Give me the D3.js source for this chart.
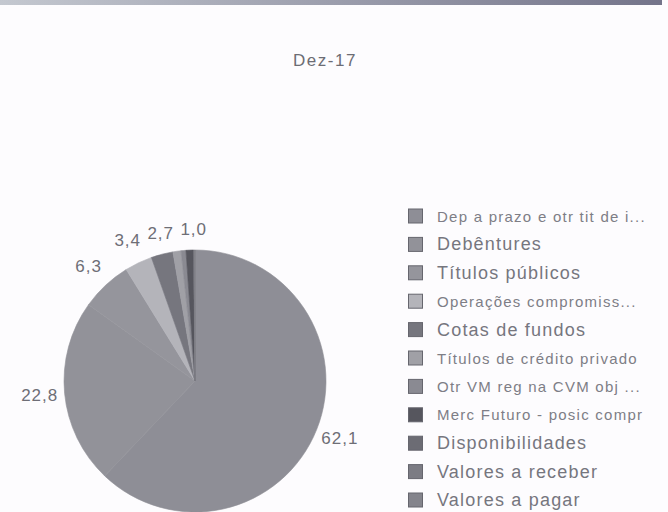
<!DOCTYPE html>
<html>
<head>
<meta charset="utf-8">
<script src="https://cdn.jsdelivr.net/npm/d3@7"></script>
<style>
  body { margin: 0; background: #fdfcfe; }
  svg { display: block; font-family: "Liberation Sans", Arial, sans-serif; }
</style>
</head>
<body>
<div id="chart"></div>
<script>
var svgWidth = 668;
var svgHeight = 512;

// chart data (percent of portfolio, Dez-17)
var title = "Dez-17";
var categories = [
  "Dep a prazo e otr tit de i...",
  "Debêntures",
  "Títulos públicos",
  "Operações compromiss...",
  "Cotas de fundos",
  "Títulos de crédito privado",
  "Otr VM reg na CVM obj ...",
  "Merc Futuro - posic compr",
  "Disponibilidades",
  "Valores a receber",
  "Valores a pagar"
];
var values = [62.1, 22.8, 6.3, 3.4, 2.7, 1.0, 0.6, 0.9, 0.1, 0.1, 0.0];

// grey tones of the scanned chart
var greys = ["#8e8e96", "#929299", "#95959c", "#b4b4ba", "#76767e", "#a0a0a6",
             "#8a8a92", "#56565e", "#6c6c74", "#7c7c84", "#84848c"];

var svg = d3.select("#chart")
  .append("svg")
  .attr("width", svgWidth)
  .attr("height", svgHeight);

// scan border at the top
var grad = svg.append("defs").append("linearGradient").attr("id", "topband");
grad.append("stop").attr("offset", "0%").attr("stop-color", "#c4c8d0");
grad.append("stop").attr("offset", "100%").attr("stop-color", "#74748a");
svg.append("rect")
  .attr("x", 0).attr("y", 0)
  .attr("width", 662).attr("height", 5)
  .attr("fill", "url(#topband)");

svg.append("text")
  .attr("x", 325)
  .attr("y", 66)
  .attr("text-anchor", "middle")
  .attr("font-size", 17)
  .attr("letter-spacing", 1.5)
  .attr("fill", "#6c6c74")
  .text(title);

var cx = 195, cy = 381, radius = 131;

var color = d3.scaleOrdinal().domain(categories).range(greys);

var pie = d3.pie()
  .sort(null)
  .value(d => d.value);

var data = categories.map((c, i) => ({ name: c, value: values[i] }));
var arcs = pie(data);

var arc = d3.arc().innerRadius(0).outerRadius(radius);
var labelArc = d3.arc().innerRadius(156).outerRadius(156);

var g = svg.append("g").attr("transform", "translate(" + cx + "," + cy + ")");

g.selectAll("path")
  .data(arcs)
  .enter()
  .append("path")
  .attr("d", arc)
  .attr("fill", d => color(d.data.name))
  .attr("stroke", d => color(d.data.name))
  .attr("stroke-width", 0.6);

// labels only for the slices Excel labelled, nudged apart when they collide
var labelled = arcs.filter(d => d.data.value >= 1);
var prevX = null;
labelled.forEach(function(d) {
  var p = labelArc.centroid(d);
  if (prevX !== null && Math.abs(p[1]) > 120 && p[0] - prevX < 30 && p[0] > prevX - 5) {
    p[0] = prevX + 33;
    p[1] += 3;
  }
  prevX = p[0];
  d.lx = p[0];
  d.ly = p[1];
});

g.selectAll("text.lbl")
  .data(labelled)
  .enter()
  .append("text")
  .attr("class", "lbl")
  .attr("x", d => d.lx)
  .attr("y", d => d.ly)
  .attr("text-anchor", "middle")
  .attr("dominant-baseline", "central")
  .attr("font-size", 17)
  .attr("letter-spacing", 1)
  .attr("fill", "#6e6e76")
  .text(d => d3.format(".1f")(d.data.value).replace(".", ","));

// legend
var legendY = d3.scalePoint()
  .domain(categories)
  .range([216, 500]);

var legend = svg.selectAll("g.legend")
  .data(categories)
  .enter()
  .append("g")
  .attr("class", "legend")
  .attr("transform", d => "translate(408," + legendY(d) + ")");

legend.append("rect")
  .attr("x", 0.5)
  .attr("y", -7)
  .attr("width", 14)
  .attr("height", 14)
  .attr("fill", d => color(d))
  .attr("stroke", "#66666e")
  .attr("stroke-width", 1);

legend.append("text")
  .attr("x", 29)
  .attr("y", 0)
  .attr("dominant-baseline", "central")
  .attr("font-size", d => d.length > 18 ? 15 : 18)
  .attr("letter-spacing", d => d.length > 18 ? 1.25 : 1.2)
  .attr("fill", d => d.length > 18 ? "#7e7e86" : "#76767e")
  .text(d => d);
</script>
</body>
</html>
